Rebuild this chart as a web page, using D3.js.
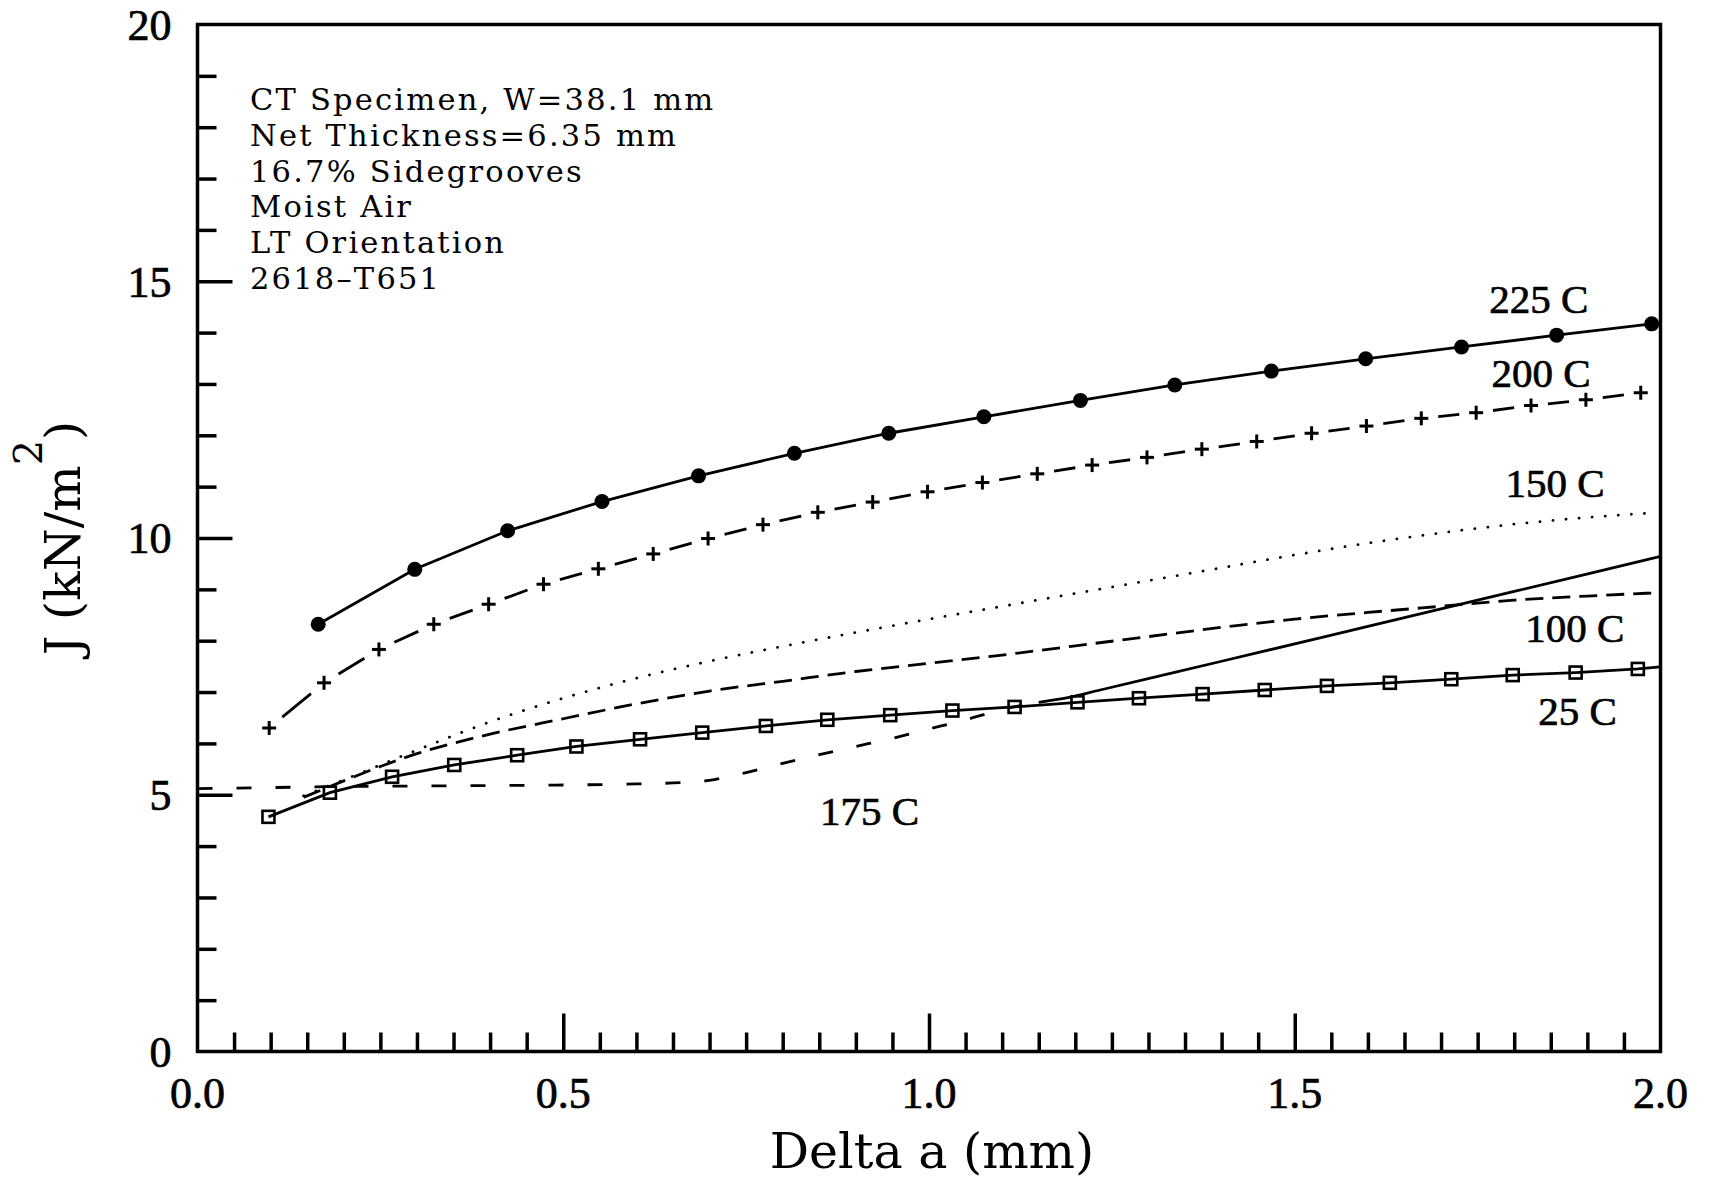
<!DOCTYPE html>
<html>
<head>
<meta charset="utf-8">
<script src="https://cdn.jsdelivr.net/npm/d3@7"></script>
<style>
  body { margin: 0; background: #fff; }
  svg { display: block; }
  .axis path.domain { display: none; }
  .axis line { stroke: #000; stroke-width: 3.5; }
  .frame { fill: none; stroke: #000; stroke-width: 3.5; }
  .num { font-family: "Liberation Serif", "Times New Roman", serif; fill: #000; stroke: #000; stroke-width: 0.7px; }
  .txt { font-family: "DejaVu Serif", serif; fill: #000; }
  .curve { fill: none; stroke: #000; stroke-width: 2.8; }
</style>
</head>
<body>
<div id="chart"></div>
<script>
// J-R curves for 2618-T651
var da225 = [0.165, 0.297, 0.424, 0.553, 0.685, 0.816, 0.945, 1.075, 1.207, 1.336, 1.468, 1.597, 1.728, 1.858, 1.988];
var j225  = [8.32, 9.39, 10.14, 10.71, 11.21, 11.65, 12.04, 12.36, 12.68, 12.98, 13.25, 13.49, 13.72, 13.95, 14.17];

var da200 = [0.098, 0.173, 0.248, 0.323, 0.398, 0.473, 0.548, 0.623, 0.698, 0.773, 0.848, 0.923, 0.998,
             1.073, 1.148, 1.223, 1.298, 1.373, 1.448, 1.523, 1.598, 1.673, 1.748, 1.823, 1.898, 1.973];
var j200  = [6.30, 7.18, 7.83, 8.32, 8.71, 9.10, 9.40, 9.69, 9.99, 10.26, 10.50, 10.70, 10.90,
             11.08, 11.25, 11.42, 11.57, 11.73, 11.88, 12.04, 12.18, 12.33, 12.44, 12.58, 12.69, 12.83];

var da175 = [0.0, 0.1, 0.2, 0.3, 0.4, 0.5, 0.6, 0.65, 0.7, 0.75, 0.8, 0.85, 0.9, 0.95, 1.0, 1.05, 1.1, 1.15, 1.19, 1.234, 1.4, 1.6, 1.8, 2.0];
var j175  = [5.12, 5.14, 5.16, 5.17, 5.18, 5.19, 5.21, 5.23, 5.28, 5.43, 5.61, 5.78, 5.94, 6.10, 6.28, 6.46, 6.66, 6.80, 6.89, 7.04, 7.60, 8.28, 8.96, 9.64];
var split175 = 1.15;   // dashed up to here, solid after

var da150 = [0.145, 0.2, 0.3, 0.4, 0.5, 0.6, 0.7, 0.8, 0.9, 1.0, 1.1, 1.2, 1.3, 1.4, 1.5, 1.6, 1.7, 1.8, 1.9, 1.99];
var j150  = [4.98, 5.29, 5.87, 6.42, 6.88, 7.27, 7.60, 7.89, 8.16, 8.42, 8.67, 8.92, 9.17, 9.42, 9.67, 9.90, 10.10, 10.27, 10.40, 10.49];

var da100 = [0.145, 0.2, 0.25, 0.3, 0.4, 0.5, 0.6, 0.7, 0.8, 0.9, 1.0, 1.1, 1.2, 1.3, 1.4, 1.5, 1.6, 1.7, 1.8, 1.9, 1.99];
var j100  = [4.95, 5.27, 5.55, 5.80, 6.18, 6.48, 6.77, 7.02, 7.21, 7.40, 7.56, 7.72, 7.90, 8.08, 8.26, 8.42, 8.55, 8.67, 8.79, 8.87, 8.93];

var da25 = [0.097, 0.181, 0.266, 0.351, 0.437, 0.518, 0.605, 0.690, 0.777, 0.861, 0.947, 1.032, 1.117, 1.203,
            1.287, 1.374, 1.459, 1.544, 1.630, 1.714, 1.798, 1.884, 1.969, 2.0];
var j25  = [4.57, 5.04, 5.35, 5.58, 5.77, 5.94, 6.08, 6.21, 6.34, 6.46, 6.55, 6.64, 6.71, 6.80,
            6.88, 6.96, 7.04, 7.12, 7.18, 7.25, 7.33, 7.38, 7.45, 7.49];

var curveLabels = ["225 C", "200 C", "150 C", "100 C", "25 C", "175 C"];
var labelDa     = [1.766, 1.769, 1.788, 1.815, 1.833, 0.851];
var labelJ      = [14.38, 12.94, 10.80, 7.98, 6.36, 4.41];

var xMajor = [0, 0.5, 1.0, 1.5, 2.0];
var yMajor = [0, 5, 10, 15, 20];
var notes = ["CT Specimen, W=38.1 mm", "Net Thickness=6.35 mm", "16.7% Sidegrooves",
             "Moist Air", "LT Orientation", "2618\u2013T651"];

var width = 1720, height = 1182;
var plot = {left: 197.5, right: 1660.5, top: 24.5, bottom: 1051.5};

var x = d3.scaleLinear().domain([0, 2]).range([plot.left, plot.right]);
var y = d3.scaleLinear().domain([0, 20]).range([plot.bottom, plot.top]);

var xMinor = d3.range(1, 40).map(function(i) { return i * 0.05; })
  .filter(function(v) { return Math.abs(v * 2 - Math.round(v * 2)) > 1e-6; });
var yMinor = d3.range(1, 20).filter(function(v) { return v % 5 !== 0; });

function zip(a, b) { return a.map(function(v, i) { return [v, b[i]]; }); }

var svg = d3.select("#chart").append("svg")
    .attr("width", width)
    .attr("height", height);

svg.append("defs").append("clipPath").attr("id", "clip")
  .append("rect")
    .attr("x", plot.left).attr("y", plot.top)
    .attr("width", plot.right - plot.left).attr("height", plot.bottom - plot.top);

// ticks point inward
svg.append("g").attr("class", "axis")
    .attr("transform", "translate(0," + y(0) + ")")
    .call(d3.axisBottom(x).tickValues(xMinor).tickSize(-19).tickFormat(""));
svg.append("g").attr("class", "axis")
    .attr("transform", "translate(0," + y(0) + ")")
    .call(d3.axisBottom(x).tickValues(xMajor.slice(1, 4)).tickSize(-38).tickFormat(""));
svg.append("g").attr("class", "axis")
    .attr("transform", "translate(" + x(0) + ",0)")
    .call(d3.axisLeft(y).tickValues(yMinor).tickSize(-19).tickFormat(""));
svg.append("g").attr("class", "axis")
    .attr("transform", "translate(" + x(0) + ",0)")
    .call(d3.axisLeft(y).tickValues(yMajor.slice(1, 4)).tickSize(-35).tickFormat(""));

svg.append("rect").attr("class", "frame")
    .attr("x", plot.left).attr("y", plot.top)
    .attr("width", plot.right - plot.left).attr("height", plot.bottom - plot.top);

svg.selectAll(".xlab").data(xMajor).enter().append("text")
    .attr("class", "num")
    .attr("x", function(d) { return x(d); })
    .attr("y", plot.bottom + 56)
    .attr("text-anchor", "middle")
    .style("font-size", "44px")
    .text(d3.format(".1f"));

svg.selectAll(".ylab").data(yMajor).enter().append("text")
    .attr("class", "num")
    .attr("x", plot.left - 26)
    .attr("y", function(d) { return y(d); })
    .attr("dy", "0.35em")
    .attr("text-anchor", "end")
    .style("font-size", "44px")
    .text(function(d) { return d; });

svg.append("text").attr("class", "txt")
    .attr("x", 932).attr("y", 1168)
    .attr("text-anchor", "middle")
    .style("font-size", "49px")
    .text("Delta a (mm)");

var yTitle = svg.append("text").attr("class", "txt")
    .attr("transform", "translate(80," + y(10) + ") rotate(-90)")
    .attr("text-anchor", "middle")
    .style("font-size", "49px");
yTitle.append("tspan").text("J (kN/m");
yTitle.append("tspan").attr("dy", -38).style("font-size", "40px").text("2");
yTitle.append("tspan").attr("dy", 38).text(")");

// specimen notes: smaller face, letter-spaced so lines keep the same width
svg.selectAll(".note").data(notes).enter().append("text")
    .attr("class", "txt")
    .attr("x", 250)
    .attr("y", function(d, i) { return 110 + i * 35.8; })
    .style("font-size", "30.5px")
    .style("letter-spacing", "2.2px")
    .text(function(d) { return d; });

var g = svg.append("g").attr("clip-path", "url(#clip)");

var straight = d3.line().x(function(d) { return x(d[0]); }).y(function(d) { return y(d[1]); });
var smooth = d3.line().curve(d3.curveMonotoneX)
    .x(function(d) { return x(d[0]); }).y(function(d) { return y(d[1]); });

var p225 = zip(da225, j225), p200 = zip(da200, j200), p175 = zip(da175, j175),
    p150 = zip(da150, j150), p100 = zip(da100, j100), p25 = zip(da25, j25);

// 150 C dotted
g.append("path").attr("class", "curve").attr("d", smooth(p150))
    .attr("stroke-width", 3.6).attr("stroke-linecap", "round").attr("stroke-dasharray", "0.1,13");

// 100 C dashed
g.append("path").attr("class", "curve").attr("d", smooth(p100))
    .attr("stroke-dasharray", "18,9");

// 175 C dashed, then solid
g.append("path").attr("class", "curve")
    .attr("d", smooth(p175.filter(function(d) { return d[0] <= split175; })))
    .attr("stroke-width", 3.4)
    .attr("stroke-dasharray", "15,24");
g.append("path").attr("class", "curve")
    .attr("d", smooth(p175.filter(function(d) { return d[0] >= split175; })));

// 25 C solid with open squares
g.append("path").attr("class", "curve").attr("d", straight(p25));
g.selectAll(".sq").data(p25.filter(function(d) { return d[0] < 1.99; })).enter().append("rect")
    .attr("x", function(d) { return x(d[0]) - 6; })
    .attr("y", function(d) { return y(d[1]) - 6; })
    .attr("width", 12).attr("height", 12)
    .attr("fill", "none").attr("stroke", "#000").attr("stroke-width", 2.6);

// 225 C solid with filled circles
g.append("path").attr("class", "curve").attr("d", straight(p225));
g.selectAll(".dot").data(p225).enter().append("circle")
    .attr("cx", function(d) { return x(d[0]); })
    .attr("cy", function(d) { return y(d[1]); })
    .attr("r", 7.5).attr("fill", "#000");

// 200 C: one dash between each pair of plus marks
var gap = 17;
d3.pairs(p200).forEach(function(pr) {
  var x0 = x(pr[0][0]), y0 = y(pr[0][1]), x1 = x(pr[1][0]), y1 = y(pr[1][1]);
  var len = Math.hypot(x1 - x0, y1 - y0);
  if (len <= 2 * gap) return;
  var ux = (x1 - x0) / len, uy = (y1 - y0) / len;
  g.append("line").attr("class", "curve")
    .attr("x1", x0 + ux * gap).attr("y1", y0 + uy * gap)
    .attr("x2", x1 - ux * gap).attr("y2", y1 - uy * gap);
});
var plus = g.selectAll(".plus").data(p200).enter().append("g")
    .attr("transform", function(d) { return "translate(" + x(d[0]) + "," + y(d[1]) + ")"; });
plus.append("line").attr("x1", -7).attr("x2", 7).attr("stroke", "#000").attr("stroke-width", 3);
plus.append("line").attr("y1", -7).attr("y2", 7).attr("stroke", "#000").attr("stroke-width", 3);

svg.selectAll(".clabel").data(curveLabels).enter().append("text")
    .attr("class", "num")
    .attr("x", function(d, i) { return x(labelDa[i]); })
    .attr("y", function(d, i) { return y(labelJ[i]); })
    .style("font-size", "41px")
    .text(function(d) { return d; });
</script>
</body>
</html>
